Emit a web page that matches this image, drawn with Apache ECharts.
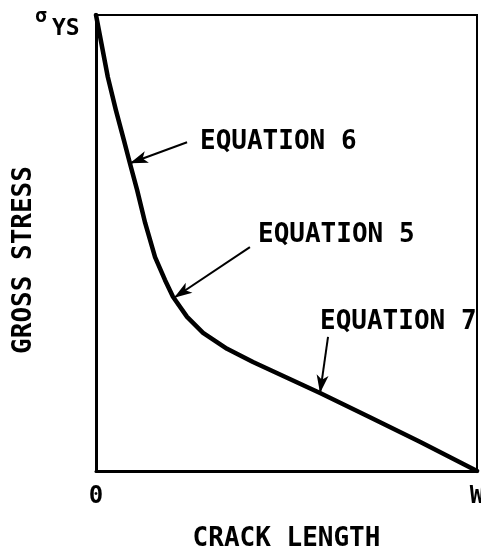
<!DOCTYPE html>
<html>
<head>
<meta charset="utf-8">
<script src="https://cdn.jsdelivr.net/npm/echarts@6/dist/echarts.min.js"></script>
<style>html,body{margin:0;padding:0;background:#fff;}#c{width:481px;height:550px;}</style>
</head>
<body>
<div id="c"></div>
<script>
// crack length as fraction of width W, gross stress as fraction of yield stress σYS
const crackLength = [0, 0.031, 0.052, 0.073, 0.089, 0.108, 0.129, 0.155, 0.181, 0.202, 0.239, 0.281, 0.344, 0.412, 0.588, 0.719, 0.850, 1];
const grossStress = [1, 0.864, 0.792, 0.726, 0.675, 0.616, 0.544, 0.469, 0.419, 0.382, 0.338, 0.303, 0.268, 0.239, 0.171, 0.118, 0.064, 0];
const xTickLabels = ['0', 'W'];
const annotations = [
  { text: 'EQUATION 6', from: [0.239, 0.721], to: [0.089, 0.675] },
  { text: 'EQUATION 5', from: [0.404, 0.491], to: [0.205, 0.380] },
  { text: 'EQUATION 7', from: [0.609, 0.294], to: [0.588, 0.171] }
];
const labelPos = [[200, 142], [258, 235], [320, 322]];

const FONT = 'DejaVu Sans Mono';
const chart = echarts.init(document.getElementById('c'));
const data = crackLength.map((x, i) => [x, grossStress[i]]);

chart.setOption({
  animation: false,
  backgroundColor: '#fff',
  grid: { left: 96, right: 4, top: 15, bottom: 79, show: true, borderColor: '#000', borderWidth: 2,
    containLabel: false, outerBoundsMode: 'none' },
  xAxis: {
    type: 'value', min: 0, max: 1, interval: 1,
    axisLine: { show: true, lineStyle: { color: '#000', width: 3 } },
    axisTick: { show: false }, splitLine: { show: false },
    axisLabel: { margin: 14, color: '#000', fontFamily: FONT, fontWeight: 'bold', fontSize: 24,
      formatter: v => xTickLabels[v === 0 ? 0 : 1] },
    name: 'CRACK LENGTH', nameLocation: 'middle', nameGap: 55,
    nameTextStyle: { color: '#000', fontFamily: FONT, fontWeight: 'bold', fontSize: 26 }
  },
  yAxis: {
    type: 'value', min: 0, max: 1, interval: 1,
    axisLine: { show: true, lineStyle: { color: '#000', width: 3 } },
    axisTick: { show: false }, splitLine: { show: false },
    axisLabel: { show: false }
  },
  series: [{
    type: 'line', data: data, smooth: false, symbol: 'none',
    lineStyle: { color: '#000', width: 4.5, join: 'round', cap: 'round' },
    markLine: {
      silent: true, symbol: ['none', 'arrow'], symbolSize: [9, 18],
      lineStyle: { color: '#000', width: 2, type: 'solid' },
      label: { show: false },
      data: annotations.map(a => [{ coord: a.from }, { coord: a.to }])
    }
  }],
  graphic: [
    ...annotations.map((a, i) => ({
      type: 'text', left: labelPos[i][0], top: labelPos[i][1] - 13,
      style: { text: a.text, font: 'bold 26px "' + FONT + '"', fill: '#000' }
    })),
    { type: 'text', x: 24, y: 260, rotation: Math.PI / 2,
      style: { text: 'GROSS STRESS', font: 'bold 26px "' + FONT + '"', fill: '#000', textAlign: 'center', textVerticalAlign: 'middle' } },
    { type: 'text', x: 41, y: 17,
      style: { text: 'σ', font: 'bold 20px "' + FONT + '"', fill: '#000', textAlign: 'center', textVerticalAlign: 'middle' } },
    { type: 'text', x: 52, y: 29,
      style: { text: 'YS', font: 'bold 23px "' + FONT + '"', fill: '#000', textAlign: 'left', textVerticalAlign: 'middle' } }
  ]
});
</script>
</body>
</html>
